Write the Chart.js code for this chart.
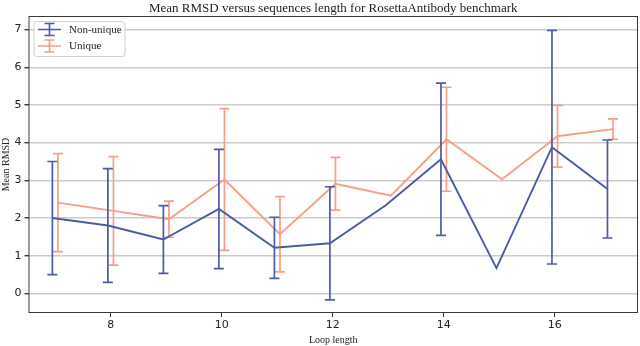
<!DOCTYPE html>
<html>
<head>
<meta charset="utf-8">
<script src="https://cdn.jsdelivr.net/npm/chart.js@4"></script>
<style>
    html, body { margin: 0; padding: 0; background: #fff; }
    #wrap { width: 640px; height: 346px; }
</style>
</head>
<body>
<div id="wrap"><canvas id="rmsdChart" width="640" height="346"></canvas></div>
<script>
// values
const loopLengths = [7, 8, 9, 10, 11, 12, 13, 14, 15, 16, 17];
const nonUniqueMean = [2.00, 1.80, 1.43, 2.24, 1.21, 1.33, 2.33, 3.56, 0.67, 3.88, 2.77];
const nonUniqueErr = [1.50, 1.51, 0.90, 1.58, 0.81, 1.50, null, 2.02, null, 3.10, 1.30];
const uniqueMean = [2.41, 2.19, 1.97, 3.02, 1.57, 2.91, 2.59, 4.09, 3.03, 4.17, 4.36];
const uniqueErr = [1.30, 1.44, 0.48, 1.88, 1.00, 0.70, null, 1.38, null, 0.82, 0.27];
const xTicks = [8, 10, 12, 14, 16];
const yTicks = [0, 1, 2, 3, 4, 5, 6, 7];

const TITLE = 'Mean RMSD versus sequences length for RosettaAntibody benchmark';

const COLORS = {
    blue: '#4c5ba8',
    salmon: '#f79e88',
    grid: '#cccccc',
    frame: '#3a3a3a',
    text: '#222222'
};

function meanPoints(means, offset) {
    return loopLengths.map((x, i) => ({ x: x + offset, y: means[i] }));
}

// error bars as one line dataset, broken by nulls; caps are 'line' point markers
function errorPoints(means, errs, offset) {
    const pts = [];
    loopLengths.forEach((x, i) => {
        if (errs[i] == null) return;
        pts.push({ x: x + offset, y: means[i] - errs[i] });
        pts.push({ x: x + offset, y: means[i] + errs[i] });
        pts.push({ x: x + offset, y: null });
    });
    return pts;
}

function errorDataset(means, errs, offset, color) {
    return {
        label: '_err',
        data: errorPoints(means, errs, offset),
        borderColor: color,
        backgroundColor: color,
        borderWidth: 1.7,
        pointStyle: 'line',
        pointRadius: 5,
        pointBorderWidth: 1.7,
        pointBorderColor: color,
        pointHoverRadius: 5,
        spanGaps: false,
        showLine: true,
        tension: 0
    };
}

function lineDataset(label, means, offset, color) {
    return {
        label: label,
        data: meanPoints(means, offset),
        borderColor: color,
        backgroundColor: color,
        borderWidth: 1.9,
        pointRadius: 0,
        showLine: true,
        tension: 0
    };
}

const legendItems = [
    { label: 'Non-unique', color: COLORS.blue },
    { label: 'Unique', color: COLORS.salmon }
];

const framePlugin = {
    id: 'frameAndLegend',
    afterDraw(chart) {
        const { ctx, chartArea: a } = chart;
        ctx.save();
        ctx.strokeStyle = COLORS.frame;
        ctx.lineWidth = 1;
        ctx.strokeRect(a.left + 0.5, a.top + 0.5, a.right - a.left - 1, a.bottom - a.top - 1);

        // title centred over the axes
        ctx.fillStyle = COLORS.text;
        ctx.font = '13px "Liberation Serif", serif';
        ctx.textAlign = 'center';
        ctx.textBaseline = 'middle';
        ctx.fillText(TITLE, (a.left + a.right) / 2, 9);
        ctx.textAlign = 'left';

        // legend box, top left inside the axes
        const bx = a.left + 5.5, by = a.top + 5.5, bw = 91, bh = 35;
        ctx.beginPath();
        ctx.roundRect(bx, by, bw, bh, 3);
        ctx.fillStyle = 'rgba(255,255,255,0.85)';
        ctx.fill();
        ctx.strokeStyle = '#d0d0d0';
        ctx.stroke();

        ctx.font = '11px "Liberation Serif", serif';
        legendItems.forEach((item, i) => {
            const cy = by + 8 + i * 16.5;
            const x0 = bx + 4, x1 = bx + 27, xm = (x0 + x1) / 2;
            ctx.strokeStyle = item.color;
            ctx.lineWidth = 1.7;
            ctx.beginPath();
            ctx.moveTo(x0, cy); ctx.lineTo(x1, cy);
            ctx.moveTo(xm, cy - 6); ctx.lineTo(xm, cy + 6);
            ctx.moveTo(xm - 5, cy - 6); ctx.lineTo(xm + 5, cy - 6);
            ctx.moveTo(xm - 5, cy + 6); ctx.lineTo(xm + 5, cy + 6);
            ctx.stroke();
            ctx.fillStyle = COLORS.text;
            ctx.fillText(item.label, bx + 35, cy + 0.5);
        });
        ctx.restore();
    }
};

const ctx = document.getElementById('rmsdChart').getContext('2d');
new Chart(ctx, {
    type: 'scatter',
    data: {
        datasets: [
            lineDataset('Non-unique', nonUniqueMean, -0.05, COLORS.blue),
            errorDataset(nonUniqueMean, nonUniqueErr, -0.05, COLORS.blue),
            lineDataset('Unique', uniqueMean, 0.05, COLORS.salmon),
            errorDataset(uniqueMean, uniqueErr, 0.05, COLORS.salmon)
        ]
    },
    options: {
        responsive: false,
        animation: false,
        layout: { autoPadding: false, padding: { left: 0, right: 2, top: 16, bottom: 0 } },
        plugins: {
            legend: { display: false },
            tooltip: { enabled: false },
            title: { display: false }
        },
        scales: {
            x: {
                type: 'linear',
                min: 6.52,
                max: 17.5,
                afterBuildTicks(scale) { scale.ticks = xTicks.map(v => ({ value: v })); },
                afterFit(scale) {
                    scale.height = 33;
                    scale.paddingLeft = 0;
                    scale.paddingRight = 0;
                },
                grid: { drawOnChartArea: false, tickLength: 4, tickColor: COLORS.frame, color: COLORS.frame },
                border: { display: false },
                ticks: {
                    color: COLORS.text,
                    padding: 2,
                    maxRotation: 0,
                    font: { family: '"DejaVu Sans", sans-serif', size: 11 }
                },
                title: {
                    display: true,
                    text: 'Loop length',
                    color: COLORS.text,
                    font: { family: '"Liberation Serif", serif', size: 10 },
                    padding: { top: 0, bottom: 0 }
                }
            },
            y: {
                type: 'linear',
                min: -0.52,
                max: 7.36,
                afterBuildTicks(scale) { scale.ticks = yTicks.map(v => ({ value: v })); },
                afterFit(scale) {
                    scale.width = 28.5;
                    scale.paddingTop = 0;
                    scale.paddingBottom = 0;
                },
                grid: { color: COLORS.grid, lineWidth: 1.4, tickLength: 4, tickColor: COLORS.frame },
                border: { display: false },
                ticks: {
                    color: COLORS.text,
                    padding: 3,
                    font: { family: '"DejaVu Sans", sans-serif', size: 11 }
                },
                title: {
                    display: true,
                    text: 'Mean RMSD',
                    color: COLORS.text,
                    font: { family: '"Liberation Serif", serif', size: 10 },
                    padding: { top: 0, bottom: 0 }
                }
            }
        }
    },
    plugins: [framePlugin]
});
</script>
</body>
</html>
